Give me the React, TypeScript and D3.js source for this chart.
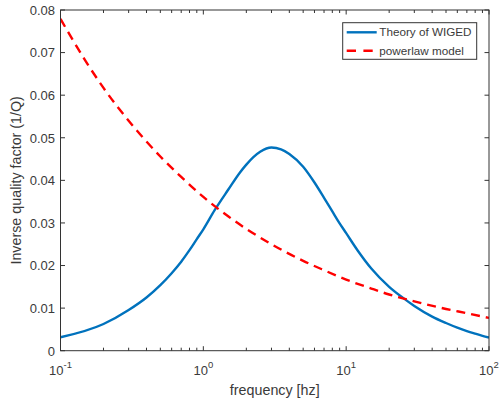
import React from "react";
import * as d3 from "d3";

const blueFreq = [0.1, 0.2, 0.3, 0.4, 0.5, 0.6, 0.7, 0.8, 0.9, 1, 1.2, 1.5, 1.8, 2, 2.5, 3, 3.5, 4, 5, 6, 7, 8, 9, 10, 12, 15, 20, 25, 30, 40, 50, 60, 70, 80, 90, 100];
const blueVals = [0.00315, 0.00627, 0.00956, 0.0125, 0.0154, 0.0182, 0.0209, 0.0236, 0.0262, 0.0285, 0.033, 0.0379, 0.0418, 0.0437, 0.0467, 0.0477, 0.0473, 0.0462, 0.0432, 0.0395, 0.0359, 0.0327, 0.0299, 0.0276, 0.0236, 0.0193, 0.015, 0.0124, 0.0105, 0.008, 0.0065, 0.0054, 0.0046, 0.004, 0.0035, 0.0031];

const redFreq = [0.1, 0.15, 0.2, 0.3, 0.5, 0.7, 1, 1.5, 2, 3, 5, 7, 10, 15, 20, 30, 50, 70, 100];
const redVals = [0.0779, 0.0680, 0.0617, 0.054, 0.0456, 0.0408, 0.0361, 0.0315, 0.0286, 0.025, 0.0211, 0.0189, 0.0167, 0.0146, 0.0132, 0.0116, 0.0098, 0.0088, 0.0077];

const yTicks = [0, 0.01, 0.02, 0.03, 0.04, 0.05, 0.06, 0.07, 0.08];
const yTickLabels = ["0", "0.01", "0.02", "0.03", "0.04", "0.05", "0.06", "0.07", "0.08"];
const xMajor = [0.1, 1, 10, 100];
const xMajorExp = ["-1", "0", "1", "2"];

const seriesNames = ["Theory of WIGED", "powerlaw model"];

const L = 60.5, R = 489, T = 10, B = 350.7;
const FONT = "'Liberation Sans', Arial, Helvetica, sans-serif";
const TXT = "#3a3a3a";

export default function App() {
  const x = d3.scaleLog().domain([0.1, 100]).range([L, R]);
  const y = d3.scaleLinear().domain([0, 0.08]).range([B, T]);

  const minor: number[] = [];
  [0.1, 1, 10].forEach((d) => {
    for (let k = 2; k <= 9; k++) minor.push(d * k);
  });

  const line = d3
    .line<[number, number]>()
    .x((d) => x(d[0]))
    .y((d) => y(d[1]))
    .curve(d3.curveMonotoneX);

  const blueData = blueFreq.map((f, i) => [f, blueVals[i]] as [number, number]);
  const redData = redFreq.map((f, i) => [f, redVals[i]] as [number, number]);

  const tl = 4.5;
  const axisColor = "#333";

  return (
    <svg
      width={500}
      height={406}
      style={{ position: "absolute", left: 0, top: 0, background: "#fff" }}
      fontFamily={FONT}
    >
      <rect x={0} y={0} width={500} height={406} fill="#fff" />
      <defs>
        <clipPath id="plotclip">
          <rect x={L} y={T} width={R - L} height={B - T} />
        </clipPath>
      </defs>
      <g clipPath="url(#plotclip)">
        <path d={line(blueData) || ""} fill="none" stroke="#0072BD" strokeWidth={2.4} strokeLinejoin="round" />
        <path d={line(redData) || ""} fill="none" stroke="#FF0000" strokeWidth={2.4} strokeDasharray="9,6" />
      </g>
      <rect x={L} y={T} width={R - L} height={B - T} fill="none" stroke={axisColor} strokeWidth={1} />
      {yTicks.map((v, i) => (
        <g key={"y" + i}>
          <line x1={L} x2={L + tl} y1={y(v)} y2={y(v)} stroke={axisColor} />
          <line x1={R} x2={R - tl} y1={y(v)} y2={y(v)} stroke={axisColor} />
          <text x={55} y={y(v) + 4.8} textAnchor="end" fontSize={13} fill={TXT}>
            {yTickLabels[i]}
          </text>
        </g>
      ))}
      {xMajor.map((v, i) => (
        <g key={"x" + i}>
          <line x1={x(v)} x2={x(v)} y1={B} y2={B - tl} stroke={axisColor} />
          <line x1={x(v)} x2={x(v)} y1={T} y2={T + tl} stroke={axisColor} />
          <text x={x(v)} y={374.5} textAnchor="middle" fontSize={13} fill={TXT}>
            10
            <tspan dy={-7} fontSize={9.5}>
              {xMajorExp[i]}
            </tspan>
          </text>
        </g>
      ))}
      {minor.map((v, i) => (
        <g key={"m" + i}>
          <line x1={x(v)} x2={x(v)} y1={B} y2={B - 3} stroke={axisColor} />
          <line x1={x(v)} x2={x(v)} y1={T} y2={T + 3} stroke={axisColor} />
        </g>
      ))}
      <text x={(L + R) / 2} y={394.5} textAnchor="middle" fontSize={14.3} fill={TXT}>
        frequency [hz]
      </text>
      <text
        transform={`translate(21,${(T + B) / 2}) rotate(-90)`}
        textAnchor="middle"
        fontSize={14.3}
        fill={TXT}
      >
        Inverse quality factor (1/Q)
      </text>
      <g>
        <rect x={342.7} y={22.7} width={134} height={36.6} fill="#fff" stroke={axisColor} strokeWidth={1} />
        <line x1={346.7} x2={376.7} y1={32.3} y2={32.3} stroke="#0072BD" strokeWidth={2.4} />
        <text x={379.3} y={36.4} fontSize={11.7} fill={TXT}>
          {seriesNames[0]}
        </text>
        <line x1={346.7} x2={376.7} y1={50.7} y2={50.7} stroke="#FF0000" strokeWidth={2.4} strokeDasharray="9.3,7.4" />
        <text x={379.3} y={54.8} fontSize={11.7} fill={TXT}>
          {seriesNames[1]}
        </text>
      </g>
    </svg>
  );
}
